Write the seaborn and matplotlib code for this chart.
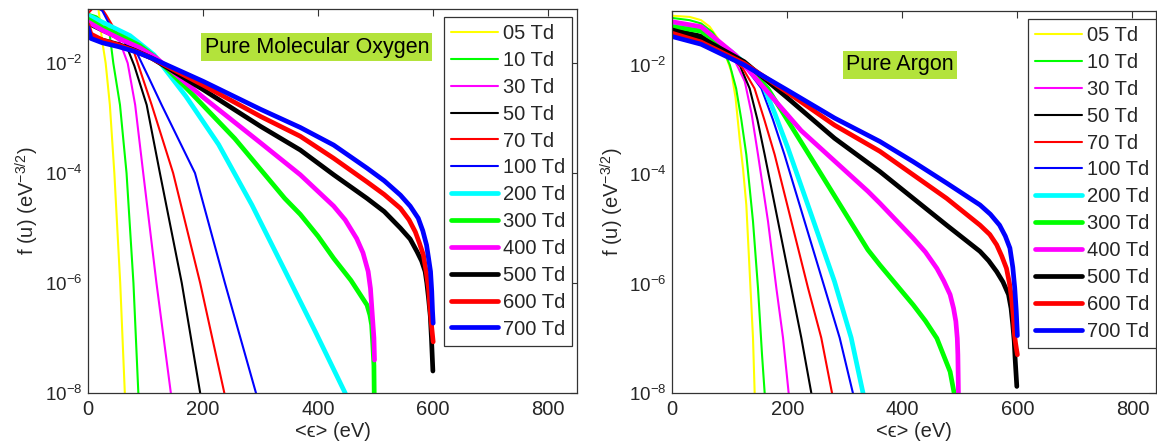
import numpy as np
import pandas as pd
import matplotlib
matplotlib.use("Agg")
import matplotlib.pyplot as plt
from matplotlib.ticker import FixedLocator, FixedFormatter, NullLocator
import seaborn as sns

# ---------------- data (x in eV, y as log10 of f(u)) ----------------
LABELS = ["05 Td", "10 Td", "30 Td", "50 Td", "70 Td", "100 Td",
          "200 Td", "300 Td", "400 Td", "500 Td", "600 Td", "700 Td"]
COLORS = ["#ffff00", "#00ff00", "#ff00ff", "#000000", "#ff0000", "#0000ff",
          "#00ffff", "#00ff00", "#ff00ff", "#000000", "#ff0000", "#0000ff"]
WIDTHS = [1.5] * 6 + [3.4] * 6

# Pure molecular oxygen
ox05_x = [0, 10, 18, 24, 30.7, 38, 45.8, 56, 64, 66]
ox05_y = [-0.9, -0.9, -1.0, -1.55, -2.0, -2.76, -4.0, -6.0, -8.0, -8.6]
ox10_x = [0, 15, 30, 38, 44, 55.6, 67, 79, 87.5, 89]
ox10_y = [-1.1, -1.15, -1.3, -1.5, -2.0, -2.76, -4.0, -6.0, -8.0, -8.5]
ox30_x = [0, 30, 55, 69, 82, 96, 119, 144, 147]
ox30_y = [-1.2, -1.4, -1.6, -2.0, -2.76, -4.0, -6.0, -8.0, -8.5]
ox50_x = [0, 30, 64, 80.6, 102, 125, 163, 195, 198]
ox50_y = [-1.3, -1.45, -1.61, -2.05, -2.76, -4.0, -6.0, -8.0, -8.3]
ox70_x = [0, 10, 22, 32, 50, 76, 88, 110.7, 148, 195, 237, 240]
ox70_y = [-1.1, -0.98, -0.97, -1.13, -1.45, -1.67, -2.05, -2.76, -4.0, -6.0, -8.0, -8.2]
ox100_x = [0, 12, 25, 40, 60, 82, 105, 128, 186, 238, 292, 295]
ox100_y = [-1.0, -0.96, -1.05, -1.35, -1.6, -1.75, -2.25, -2.76, -4.0, -6.0, -8.0, -8.2]
ox200_x = [0, 30, 73, 115, 170, 227, 285, 343, 395, 447, 450]
ox200_y = [-1.13, -1.28, -1.5, -1.85, -2.6, -3.48, -4.58, -5.79, -6.88, -8.0, -8.1]
ox300_x = [0, 25, 60, 90, 118, 180, 255, 342, 369, 400, 427, 457, 485, 490, 493, 495, 497, 498]
ox300_y = [-1.2, -1.35, -1.52, -1.68, -1.9, -2.55, -3.37, -4.46, -4.75, -5.15, -5.55, -5.95, -6.4, -6.58, -6.76, -7.1, -7.5, -8.5]
ox400_x = [0, 25, 60, 90, 118, 200, 300, 369, 427, 447, 467, 478, 487, 491, 493, 495, 497, 498]
ox400_y = [-1.25, -1.4, -1.58, -1.72, -1.9, -2.62, -3.45, -4.03, -4.6, -4.85, -5.19, -5.45, -5.79, -6.1, -6.4, -6.7, -7.0, -7.4]
ox500_x = [0, 5, 25, 53, 82, 111, 200, 300, 369, 427, 485, 515, 543, 560, 572, 580, 586, 589, 592, 595, 597, 599.5]
ox500_y = [-1.35, -1.5, -1.58, -1.66, -1.77, -1.91, -2.48, -3.15, -3.58, -4.03, -4.46, -4.7, -5.0, -5.2, -5.43, -5.6, -5.79, -6.0, -6.28, -6.6, -7.0, -7.6]
ox600_x = [0, 5, 25, 53, 82, 111, 200, 300, 369, 427, 485, 515, 543, 558, 569, 576, 583, 588, 592, 594, 597, 600]
ox600_y = [-1.3, -1.47, -1.58, -1.67, -1.78, -1.91, -2.4, -2.97, -3.33, -3.73, -4.16, -4.39, -4.64, -4.85, -5.07, -5.27, -5.49, -5.8, -6.1, -6.4, -6.76, -7.07]
ox700_x = [0, 5, 25, 53, 82, 111, 200, 300, 369, 427, 485, 515, 543, 560, 574, 582, 588.5, 592, 595.4, 597.5, 598.8, 600]
ox700_y = [-1.35, -1.55, -1.63, -1.7, -1.79, -1.91, -2.33, -2.84, -3.17, -3.49, -3.91, -4.14, -4.4, -4.6, -4.82, -5.05, -5.31, -5.55, -5.79, -6.15, -6.5, -6.73]

# Pure argon
ar05_x = [0, 30, 50, 65, 79, 92, 102.6, 110, 117, 123, 128.7, 134.5, 140.3, 143.2, 144]
ar05_y = [-1.1, -1.12, -1.18, -1.3, -1.51, -1.8, -2.12, -2.6, -3.34, -3.9, -4.56, -5.78, -6.99, -8.0, -8.3]
ar10_x = [0, 30, 50, 70, 85, 100, 111, 120, 128.7, 140.3, 149, 156, 160.6, 161.5]
ar10_y = [-1.14, -1.18, -1.24, -1.4, -1.63, -2.0, -2.43, -3.0, -3.64, -4.86, -6.08, -7.3, -8.0, -8.3]
ar30_x = [0, 50, 91, 110, 126, 138, 149, 166.4, 180.9, 192.5, 202.3, 204]
ar30_y = [-1.26, -1.31, -1.7, -1.95, -2.3, -2.9, -3.64, -4.86, -6.08, -6.99, -8.0, -8.3]
ar50_x = [0, 50, 97, 118, 134.5, 148, 160.6, 183.8, 207, 224.3, 241.7, 243]
ar50_y = [-1.33, -1.45, -1.76, -2.02, -2.43, -3.0, -3.64, -4.86, -6.08, -6.99, -8.0, -8.2]
ar70_x = [0, 50, 97, 122, 143, 160, 178, 207, 236, 259, 277.7, 279]
ar70_y = [-1.39, -1.52, -1.79, -2.05, -2.43, -3.0, -3.64, -4.86, -6.08, -6.99, -8.0, -8.2]
ar100_x = [0, 50, 103, 130, 155, 175, 195, 230, 265, 291, 314, 316]
ar100_y = [-1.42, -1.56, -1.82, -2.08, -2.43, -3.0, -3.64, -4.86, -6.08, -6.99, -8.0, -8.2]
ar200_x = [0, 50, 103, 130, 155, 178, 201, 241.7, 282, 311, 331.6, 333]
ar200_y = [-1.22, -1.35, -1.76, -2.0, -2.3, -2.88, -3.52, -4.74, -5.96, -6.99, -8.0, -8.2]
ar300_x = [0, 50, 108, 166, 253, 340, 361, 419, 440, 460, 483, 490, 492]
ar300_y = [-1.3, -1.38, -1.82, -2.43, -3.9, -5.38, -5.66, -6.39, -6.68, -7.0, -7.61, -8.0, -8.3]
ar400_x = [0, 50, 110, 224, 340, 361, 419, 440, 460, 472, 483, 489, 493, 495.5, 496.5, 497.5, 498]
ar400_y = [-1.21, -1.3, -1.82, -3.2, -4.31, -4.53, -5.17, -5.42, -5.72, -5.95, -6.2, -6.45, -6.69, -7.0, -7.3, -8.0, -8.5]
ar500_x = [0, 50, 125, 200, 282, 361, 419, 477, 535, 550, 564, 575, 584.6, 589, 592, 594.5, 596, 599]
ar500_y = [-1.36, -1.5, -1.94, -2.6, -3.34, -3.95, -4.44, -4.93, -5.41, -5.58, -5.78, -5.97, -6.2, -6.45, -6.75, -7.05, -7.36, -7.88]
ar600_x = [0, 50, 125, 200, 282, 361, 419, 477, 535, 552, 564, 573, 581, 586, 590, 593, 595, 597, 600]
ar600_y = [-1.42, -1.58, -1.97, -2.5, -3.1, -3.58, -4.01, -4.44, -4.93, -5.1, -5.29, -5.5, -5.72, -5.98, -6.27, -6.6, -6.94, -7.1, -7.3]
ar700_x = [0, 50, 125, 200, 282, 361, 419, 477, 535, 553, 569, 579, 587, 592, 595.4, 598, 600]
ar700_y = [-1.48, -1.62, -2.0, -2.46, -2.97, -3.4, -3.77, -4.16, -4.56, -4.73, -4.93, -5.13, -5.35, -5.7, -6.08, -6.5, -6.95]

OX = [(ox05_x, ox05_y), (ox10_x, ox10_y), (ox30_x, ox30_y), (ox50_x, ox50_y),
      (ox70_x, ox70_y), (ox100_x, ox100_y), (ox200_x, ox200_y), (ox300_x, ox300_y),
      (ox400_x, ox400_y), (ox500_x, ox500_y), (ox600_x, ox600_y), (ox700_x, ox700_y)]
AR = [(ar05_x, ar05_y), (ar10_x, ar10_y), (ar30_x, ar30_y), (ar50_x, ar50_y),
      (ar70_x, ar70_y), (ar100_x, ar100_y), (ar200_x, ar200_y), (ar300_x, ar300_y),
      (ar400_x, ar400_y), (ar500_x, ar500_y), (ar600_x, ar600_y), (ar700_x, ar700_y)]

X_TICKS = [0, 200, 400, 600, 800]
Y_TICKS = [1e-8, 1e-6, 1e-4, 1e-2]
Y_TICK_LABELS = ["10$^{-8}$", "10$^{-6}$", "10$^{-4}$", "10$^{-2}$"]
PANEL_TITLES = ["Pure Molecular Oxygen", "Pure Argon"]

# ---------------- style ----------------
sns.set_style("white")
plt.rcParams["font.family"] = ["Liberation Sans", "DejaVu Sans"]
plt.rcParams["mathtext.fontset"] = "custom"
plt.rcParams["mathtext.rm"] = "Liberation Sans"
plt.rcParams["mathtext.it"] = "Liberation Sans:italic"
plt.rcParams["mathtext.default"] = "regular"

FS = 14.5
fig = plt.figure(figsize=(11.57, 4.47), dpi=100)
W, H = 1157.0, 447.0
ax1 = fig.add_axes([88 / W, (H - 393) / H, (577 - 88) / W, (393 - 9) / H])
ax2 = fig.add_axes([672.3 / W, (H - 393) / H, (1156 - 672.3) / W, (393 - 10.7) / H])

panels = [(ax1, OX, 850, 10 ** -1.015, PANEL_TITLES[0], (0.468, 0.901), (0.99, 0.979), -0.097),
          (ax2, AR, 841, 10 ** -1.007, PANEL_TITLES[1], (0.471, 0.858), (1.0, 0.978), -0.095)]

for ax, series, xmax, ytop, title, tpos, lpos, ylx in panels:
    for (xs, ys), lab, col, lw in zip(series, LABELS, COLORS, WIDTHS):
        df = pd.DataFrame({"x": xs, "y": [10.0 ** v for v in ys]})
        sns.lineplot(data=df, x="x", y="y", ax=ax, color=col, linewidth=lw,
                     label=lab, sort=False, estimator=None)
    ax.set_yscale("log")
    ax.set_xlim(0, xmax)
    ax.set_ylim(1e-8, ytop)
    ax.xaxis.set_major_locator(FixedLocator(X_TICKS))
    ax.yaxis.set_major_locator(FixedLocator(Y_TICKS))
    ax.yaxis.set_major_formatter(FixedFormatter(Y_TICK_LABELS))
    ax.yaxis.set_minor_locator(NullLocator())
    ax.xaxis.set_minor_locator(NullLocator())
    ax.tick_params(axis="both", which="both", direction="in", top=True, right=True,
                   length=5, width=0.8, color="#333333", labelsize=FS, pad=5)
    ax.tick_params(axis="y", labelsize=13.5, pad=4)
    for sp in ax.spines.values():
        sp.set_visible(True)
        sp.set_color("#333333")
        sp.set_linewidth(0.9)
    ax.set_xlabel("<\u03f5> (eV)", fontsize=FS, labelpad=2)
    ax.set_ylabel(r"f (u) (eV$^{-3/2}$)", fontsize=FS)
    ax.yaxis.set_label_coords(ylx, 0.5)
    ax.text(tpos[0], tpos[1], title, transform=ax.transAxes, ha="center", va="center",
            fontsize=15.5, color="black",
            bbox=dict(facecolor="#b3e33b", edgecolor="none", boxstyle="square,pad=0.15"))
    leg = ax.legend(loc="upper right", bbox_to_anchor=lpos, borderaxespad=0,
                    fontsize=FS, frameon=True, fancybox=False, framealpha=1,
                    edgecolor="#333333", labelspacing=0.39, handlelength=2.3,
                    handletextpad=0.25, borderpad=0.35)
    leg.get_frame().set_linewidth(0.9)

fig.savefig("out.png", dpi=100)
